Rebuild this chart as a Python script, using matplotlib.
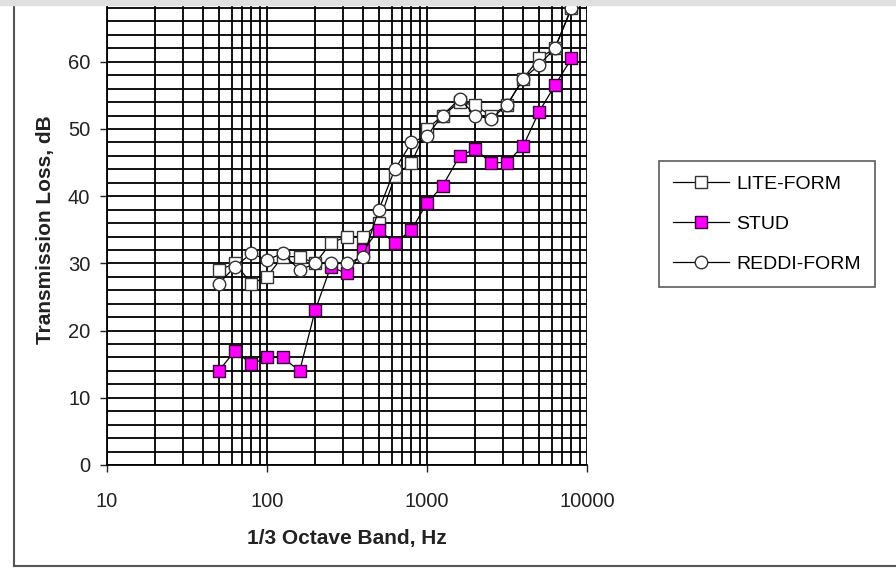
import numpy as np
import matplotlib
matplotlib.use("Agg")
import matplotlib.pyplot as plt
from matplotlib.ticker import LogLocator, MultipleLocator, FixedLocator, NullFormatter

plt.rcParams['font.family'] = ['Liberation Sans', 'DejaVu Sans']

# 1/3 octave band centre frequencies
freq = [50, 63, 80, 100, 125, 160, 200, 250, 315, 400, 500, 630,
        800, 1000, 1250, 1600, 2000, 2500, 3150, 4000, 5000, 6300, 8000]

lite_form = [29, 30, 27, 28, 31, 31, 30, 33, 34, 34, 36, 43,
             45, 50, 52, 54, 53.5, 52, 53.5, 57.5, 60.5, 62, 68]
stud = [14, 17, 15, 16, 16, 14, 23, 29.5, 28.5, 32, 35, 33,
        35, 39, 41.5, 46, 47, 45, 45, 47.5, 52.5, 56.5, 60.5]
reddi_form = [27, 29.5, 31.5, 30.5, 31.5, 29, 30, 30, 30, 31, 38, 44,
              48, 49, 52, 54.5, 52, 51.5, 53.5, 57.5, 59.5, 62, 68]

fig = plt.figure(figsize=(8.96, 5.69), dpi=100)
ax = fig.add_axes([107/896, 104/569, 480/896, 470.4/569])

ax.plot(freq, lite_form, color='black', lw=0.9, marker='s', ms=8.5,
        mfc='white', mec='#333333', mew=1.0, label='LITE-FORM', zorder=3)
ax.plot(freq, stud, color='black', lw=0.9, marker='s', ms=8.5,
        mfc='#ff00ff', mec='#330033', mew=1.0, label='STUD', zorder=3)
ax.plot(freq, reddi_form, color='black', lw=0.9, marker='o', ms=9,
        mfc='white', mec='#333333', mew=1.0, label='REDDI-FORM', zorder=3)

ax.set_xscale('log')
ax.set_xlim(10, 10000)
ax.set_ylim(0, 70)

ax.xaxis.set_major_locator(FixedLocator([10, 100, 1000, 10000]))
ax.xaxis.set_minor_locator(LogLocator(base=10, subs=np.arange(2, 10)))
ax.xaxis.set_minor_formatter(NullFormatter())
ax.set_xticklabels(['10', '100', '1000', '10000'])
ax.yaxis.set_major_locator(MultipleLocator(10))
ax.yaxis.set_minor_locator(MultipleLocator(2))

ax.grid(which='both', axis='both', color='black', lw=1.3)
ax.set_axisbelow(True)
ax.tick_params(axis='both', which='major', length=5, width=1, labelsize=14.5,
               colors='#222222')
ax.tick_params(axis='y', pad=7)
ax.tick_params(axis='x', pad=14.5)
ax.tick_params(axis='both', which='minor', length=0)
for s in ax.spines.values():
    s.set_linewidth(1.3)
ax.spines['right'].set_visible(False)

ax.set_xlabel('1/3 Octave Band, Hz', fontsize=15, fontweight='bold', labelpad=13,
              color='#222222')
ax.set_ylabel('Transmission Loss, dB', fontsize=15, fontweight='bold', labelpad=9,
              color='#222222')

leg = fig.legend(loc='upper left', bbox_to_anchor=(659/896, 1 - 161/569),
                 frameon=True, fancybox=False, edgecolor='#333333',
                 fontsize=14, handlelength=2.9, labelspacing=1.15,
                 borderpad=0.72, handletextpad=0.35, borderaxespad=0)
leg.get_frame().set_linewidth(1.2)

# page border and grey strip from the screenshot
fig.add_artist(plt.Line2D([14/896, 14/896], [3/569, 1], transform=fig.transFigure,
                          color='#555555', lw=1.5))
fig.add_artist(plt.Line2D([14/896, 1], [3/569, 3/569], transform=fig.transFigure,
                          color='#555555', lw=1.5))
fig.add_artist(plt.Rectangle((0, 1 - 5/569), 1, 5/569, transform=fig.transFigure,
                             color='#e0e0e0', zorder=10))

fig.savefig('out.png', dpi=100)
